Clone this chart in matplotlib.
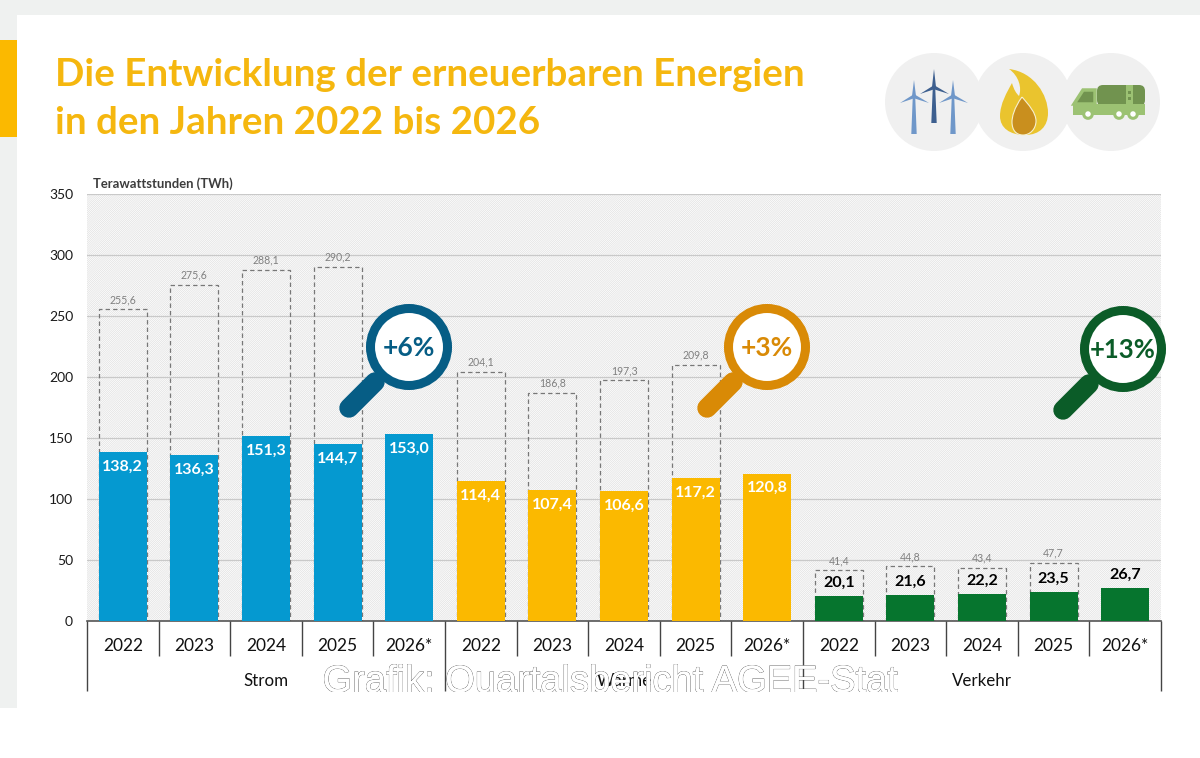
import matplotlib
matplotlib.use("Agg")
import matplotlib.pyplot as plt
import matplotlib.patheffects as pe
from matplotlib.patches import Circle, Rectangle, Polygon, PathPatch, FancyBboxPatch
from matplotlib.path import Path

plt.rcParams['font.family'] = ['Lato', 'DejaVu Sans']
plt.rcParams['hatch.linewidth'] = 0.5

# Daten
jahre = ["2022", "2023", "2024", "2025", "2026*"]
sektoren = ["Strom", "Wärme", "Verkehr"]
strom = [138.2, 136.3, 151.3, 144.7, 153.0]
waerme = [114.4, 107.4, 106.6, 117.2, 120.8]
verkehr = [20.1, 21.6, 22.2, 23.5, 26.7]
strom_gesamt = [255.6, 275.6, 288.1, 290.2]
waerme_gesamt = [204.1, 186.8, 197.3, 209.8]
verkehr_gesamt = [41.4, 44.8, 43.4, 47.7]
y_ticks = [0, 50, 100, 150, 200, 250, 300, 350]

BLAU = '#0599d0'
GELB = '#fbb900'
GRUEN = '#06752e'
W, H = 1200, 758


def komma(v):
    return f"{v:.1f}".replace('.', ',')


fig = plt.figure(figsize=(12, 7.58), dpi=100, facecolor='white')

# Hintergrund in Pixeln
bg = fig.add_axes([0, 0, 1, 1], zorder=0)
bg.set_xlim(0, W)
bg.set_ylim(H, 0)
bg.axis('off')
bg.add_patch(Rectangle((0, 0), W, 15, fc='#eff1f0', ec='none'))
bg.add_patch(Rectangle((0, 0), 17, 708, fc='#eff1f0', ec='none'))
bg.add_patch(Rectangle((0, 40), 17, 97, fc=GELB, ec='none'))
bg.text(55, 75, "Die Entwicklung der erneuerbaren Energien", color='#f5b70f', fontsize=27.7,
        fontweight='bold', va='center', ha='left')
bg.text(55, 123, "in den Jahren 2022 bis 2026", color='#f5b70f', fontsize=27.7,
        fontweight='bold', va='center', ha='left')

# Diagramm
ax = fig.add_axes([87 / W, 1 - 621 / H, (1161 - 87) / W, (621 - 194) / H], zorder=1)
ax.set_xlim(0, 15)
ax.set_ylim(0, 350)
ax.set_facecolor('white')
ax.patch.set_hatch('/' * 16)
ax.patch.set_edgecolor('#e0e0e0')
ax.patch.set_linewidth(0)
for s in ax.spines.values():
    s.set_visible(False)
ax.spines['bottom'].set_visible(True)
ax.spines['bottom'].set_color('#555555')
ax.spines['bottom'].set_linewidth(1.2)
ax.set_axisbelow(True)
ax.grid(axis='y', color='#c9c9c9', linewidth=0.9)
ax.set_xticks([])
ax.set_yticks(y_ticks)
ax.tick_params(axis='y', length=0, pad=10, labelsize=10, labelcolor='#1a1a1a')

werte = [strom, waerme, verkehr]
gesamt = [strom_gesamt, waerme_gesamt, verkehr_gesamt]
farben = [BLAU, GELB, GRUEN]
for g in range(3):
    xs = [g * 5 + i + 0.5 for i in range(5)]
    ax.bar(xs[:4], gesamt[g], width=0.67, fill=False, edgecolor='#777777',
           linestyle=(0, (3.5, 2.5)), linewidth=0.9, zorder=2)
    ax.bar(xs, werte[g], width=0.67, color=farben[g], zorder=3)
    for x, v in zip(xs[:4], gesamt[g]):
        ax.annotate(komma(v), (x, v), xytext=(0, 7), textcoords='offset points', ha='center',
                    va='center', fontsize=7.6, color='#808080', zorder=4)
    for x, v in zip(xs, werte[g]):
        if g < 2:
            ax.annotate(komma(v), (x, v), xytext=(0, -10.5), textcoords='offset points', ha='center',
                        va='center', fontsize=11.5, color='white', fontweight='bold', zorder=4)
        else:
            ax.annotate(komma(v), (x, v), xytext=(0, 9.5), textcoords='offset points', ha='center',
                        va='center', fontsize=11.5, color='black', fontweight='bold', zorder=4)

# Obere Ebene in Pixeln
ov = fig.add_axes([0, 0, 1, 1], zorder=2)
ov.set_xlim(0, W)
ov.set_ylim(H, 0)
ov.axis('off')
ov.patch.set_visible(False)

ov.text(93, 184, "Terawattstunden (TWh)", fontsize=9.4, fontweight='bold', color='#3c3c3c',
        va='center', ha='left')

# Achsenbeschriftung unten
breite = (1161 - 87) / 15
for i in range(16):
    x = 87 + i * breite
    unten = 691 if i % 5 == 0 else 656
    ov.plot([x, x], [621, unten], color='#444444', lw=1.0, solid_capstyle='butt')
for g in range(3):
    for i, j in enumerate(jahre):
        ov.text(87 + (g * 5 + i + 0.5) * breite, 646, j, fontsize=12.5, ha='center', va='center', color='#111111')
    ov.text(87 + (g * 5 + 2.5) * breite, 681, sektoren[g], fontsize=12.2, ha='center', va='center', color='#111111')


def lupe(cx, cy, griff, farbe, text, r=38.5, fs=19):
    gx, gy = griff
    ov.plot([gx, cx], [gy, gy - (cx - gx)], color=farbe, lw=5, solid_capstyle='butt', zorder=3)
    ov.plot([gx, gx + 26], [gy, gy - 26], color=farbe, lw=14, solid_capstyle='round', zorder=3)
    ov.add_patch(Circle((cx, cy), r, fc='white', ec=farbe, lw=6.5, zorder=4))
    ov.text(cx, cy + 1, text, color=farbe, fontsize=fs, fontweight='bold', ha='center', va='center', zorder=5)


lupe(409, 347, (349, 408), '#065d85', "+6%")
lupe(767, 347, (707, 408), '#d98a06', "+3%")
lupe(1123, 349, (1063, 410), '#0b5c28', "+13%", fs=18.5)

# Symbole oben rechts
for cx in [1111, 1023, 934]:
    ov.add_patch(Circle((cx, 102), 49, fc='#f0f0f0', ec='none', zorder=1))


def windrad(x, naben_y, fuss_y, oben_y, farbe):
    ov.add_patch(Polygon([(x - 2.7, fuss_y), (x + 2.7, fuss_y), (x + 1.2, naben_y), (x - 1.2, naben_y)],
                         fc=farbe, ec='none', zorder=2))
    ov.add_patch(Polygon([(x - 2, naben_y), (x, oben_y), (x + 2, naben_y)], fc=farbe, ec='none', zorder=2))
    ov.add_patch(Polygon([(x - 1, naben_y - 2.5), (x + 15, naben_y + 7), (x - 1, naben_y + 2)],
                         fc=farbe, ec='none', zorder=2))
    ov.add_patch(Polygon([(x + 1, naben_y - 2.5), (x - 14, naben_y + 7), (x + 1, naben_y + 2)],
                         fc=farbe, ec='none', zorder=2))


windrad(914, 96, 134, 80, '#6f97c9')
windrad(953, 96, 134, 80, '#6f97c9')
windrad(934, 87, 123, 69, '#3d5f8f')

flamme = Path([(1009, 69), (1034, 72), (1048, 95), (1048, 113), (1048, 126), (1040, 135), (1025, 135),
               (1010, 135), (1000, 128), (1000, 116), (1000, 104), (1007, 92), (1012, 83), (1014, 90),
               (1016, 93), (1019, 96), (1022, 88), (1019, 76), (1009, 69)],
              [Path.MOVETO] + [Path.CURVE4] * 18)
ov.add_patch(PathPatch(flamme, fc='#eac42e', ec='none', zorder=2))
kern = Path([(1022, 97), (1014, 108), (1012, 117), (1012, 122), (1012, 130), (1016, 135), (1023, 135),
             (1030, 135), (1036, 129), (1036, 121), (1036, 113), (1029, 105), (1022, 97)],
            [Path.MOVETO] + [Path.CURVE4] * 12)
ov.add_patch(PathPatch(kern, fc='#c98f1e', ec='#f6efcf', lw=0.8, zorder=3))

ov.add_patch(FancyBboxPatch((1097, 85), 48, 21, boxstyle='round,pad=0,rounding_size=6', fc='#71934f', ec='none', zorder=2))
ov.add_patch(Polygon([(1074, 104), (1083, 90), (1095, 90), (1095, 104)], fc='#71934f', ec='#9cc273', lw=2.5, zorder=3))
ov.add_patch(Rectangle((1073, 104), 72, 11, fc='#9cc273', ec='none', zorder=3))
ov.add_patch(Rectangle((1126, 85), 7, 21, fc='#9cc273', ec='none', zorder=3))
for sy in [91, 97]:
    ov.add_patch(Rectangle((1128, sy), 3, 3, fc='#71934f', ec='none', zorder=3))
for wx in [1088, 1119, 1133]:
    ov.add_patch(Circle((wx, 114), 4.3, fc='white', ec='#9cc273', lw=2.2, zorder=4))

# Wasserzeichen, unten abgeschnitten wie im Original
ov.text(610, 692, "Grafik: Quartalsbericht AGEE-Stat", family='Liberation Sans', fontsize=27.4, ha='center',
        va='baseline', color='white', zorder=6,
        path_effects=[pe.withStroke(linewidth=0.6, foreground='#444444'), pe.Normal()])
ov.add_patch(Rectangle((300, 692), 620, 14, fc='white', ec='none', zorder=7))

fig.savefig("out.png", dpi=100)
